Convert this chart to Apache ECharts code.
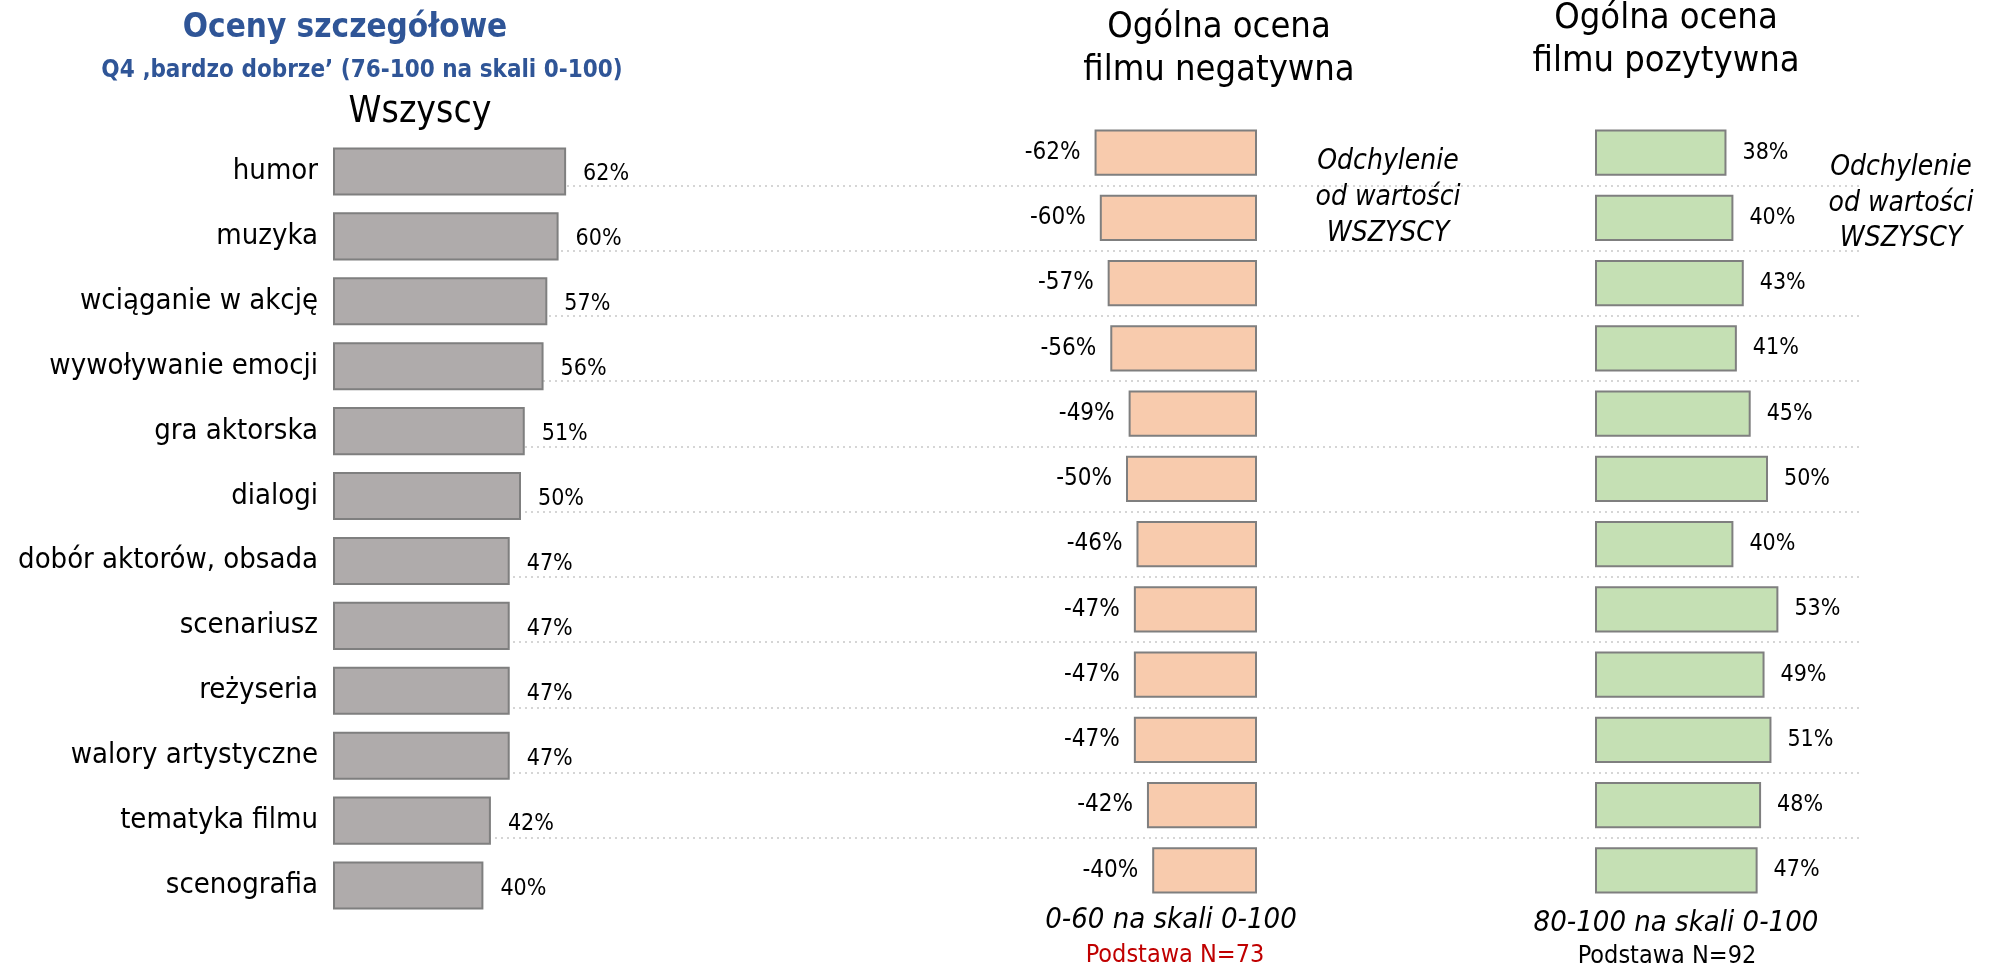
<!DOCTYPE html>
<html><head><meta charset="utf-8">
<script src="https://cdn.jsdelivr.net/npm/echarts@6/dist/echarts.min.js"></script>
<style>html,body{margin:0;padding:0;background:#fff}#c{width:1991px;height:967px}</style>
</head><body><div id="c"></div>
<script>
const categories = ['humor','muzyka','wciąganie w akcję','wywoływanie emocji','gra aktorska','dialogi','dobór aktorów, obsada','scenariusz','reżyseria','walory artystyczne','tematyka filmu','scenografia'];
const allValues = [62,60,57,56,51,50,47,47,47,47,42,40];
const negValues = [-62,-60,-57,-56,-49,-50,-46,-47,-47,-47,-42,-40];
const posValues = [38,40,43,41,45,50,40,53,49,51,48,47];

const FONT = '"DejaVu Sans Condensed","Liberation Sans Narrow","Roboto",sans-serif';
const BLUE = '#2f5597';
const chart = echarts.init(document.getElementById('c'));
const pct = p => p.value + '%';
function txt(x, y, t, size, opt) {
  return {type:'text', x:x, y:y, style:Object.assign({text:t, fontSize:size, fontFamily:FONT, fill:'#000', align:'center', verticalAlign:'middle'}, opt||{})};
}
chart.setOption({
  animation:false,
  textStyle:{fontFamily:FONT},
  grid:[
    {left:333, width:376, top:139, height:779},
    {left:995, width:262, top:120, height:783},
    {left:1595, width:346, top:120, height:783},
    {left:333, width:1529, top:120, height:783}
  ],
  xAxis:[
    {gridIndex:0, type:'value', min:0, max:100, show:false},
    {gridIndex:1, type:'value', min:-100, max:0, show:false},
    {gridIndex:2, type:'value', min:0, max:100, show:false},
    {gridIndex:3, type:'value', min:0, max:100, show:false}
  ],
  yAxis:[
    {gridIndex:0, type:'category', data:categories, inverse:true, axisLine:{show:false}, axisTick:{show:false}, splitLine:{show:false},
      axisLabel:{fontSize:29, color:'#000', margin:15, fontFamily:FONT}},
    {gridIndex:1, type:'category', data:categories, inverse:true, show:false},
    {gridIndex:2, type:'category', data:categories, inverse:true, show:false},
    {gridIndex:3, type:'category', data:categories, inverse:true, axisLine:{show:false}, axisTick:{show:false}, axisLabel:{show:false},
      splitLine:{show:true, showMinLine:false, showMaxLine:false, lineStyle:{type:[2,4], color:'#c8c8c8', width:1.5}}}
  ],
  series:[
    {type:'bar', xAxisIndex:0, yAxisIndex:0, data:allValues, barCategoryGap:'26%',
      itemStyle:{color:'#afabab', borderColor:'#7f7f7f', borderWidth:2},
      label:{show:true, position:'right', distance:17, formatter:pct, fontSize:23, color:'#000', offset:[0,3], fontFamily:FONT}},
    {type:'bar', xAxisIndex:1, yAxisIndex:1, data:negValues, barCategoryGap:'29%',
      itemStyle:{color:'#f8cbad', borderColor:'#7f7f7f', borderWidth:2},
      label:{show:true, position:'left', distance:14, formatter:pct, fontSize:24, color:'#000', fontFamily:FONT}},
    {type:'bar', xAxisIndex:2, yAxisIndex:2, data:posValues, barCategoryGap:'29%',
      itemStyle:{color:'#c5e0b4', borderColor:'#7f7f7f', borderWidth:2},
      label:{show:true, position:'right', distance:16, formatter:pct, fontSize:23, color:'#000', fontFamily:FONT}}
  ],
  graphic:[
    txt(345, 28, 'Oceny szczegółowe', 33, {fill:BLUE, fontWeight:'bold'}),
    txt(362, 71, 'Q4 ‚bardzo dobrze’ (76-100 na skali 0-100)', 24, {fill:BLUE, fontWeight:'bold'}),
    txt(420, 112, 'Wszyscy', 37),
    txt(1219, 28, 'Ogólna ocena', 36),
    txt(1219, 71, 'filmu negatywna', 36),
    txt(1666, 19, 'Ogólna ocena', 36),
    txt(1666, 62, 'filmu pozytywna', 36),
    txt(1388, 162, 'Odchylenie', 28, {fontStyle:'italic'}),
    txt(1388, 198, 'od wartości', 28, {fontStyle:'italic'}),
    txt(1388, 234, 'WSZYSCY', 28, {fontStyle:'italic'}),
    txt(1901, 168, 'Odchylenie', 28, {fontStyle:'italic'}),
    txt(1901, 204, 'od wartości', 28, {fontStyle:'italic'}),
    txt(1901, 239, 'WSZYSCY', 28, {fontStyle:'italic'}),
    txt(1171, 920, '0-60 na skali 0-100', 29, {fontStyle:'italic'}),
    txt(1175, 955, 'Podstawa N=73', 25, {fill:'#c00000'}),
    txt(1676, 923, '80-100 na skali 0-100', 29, {fontStyle:'italic'}),
    txt(1667, 956, 'Podstawa N=92', 25)
  ]
});
</script></body></html>
